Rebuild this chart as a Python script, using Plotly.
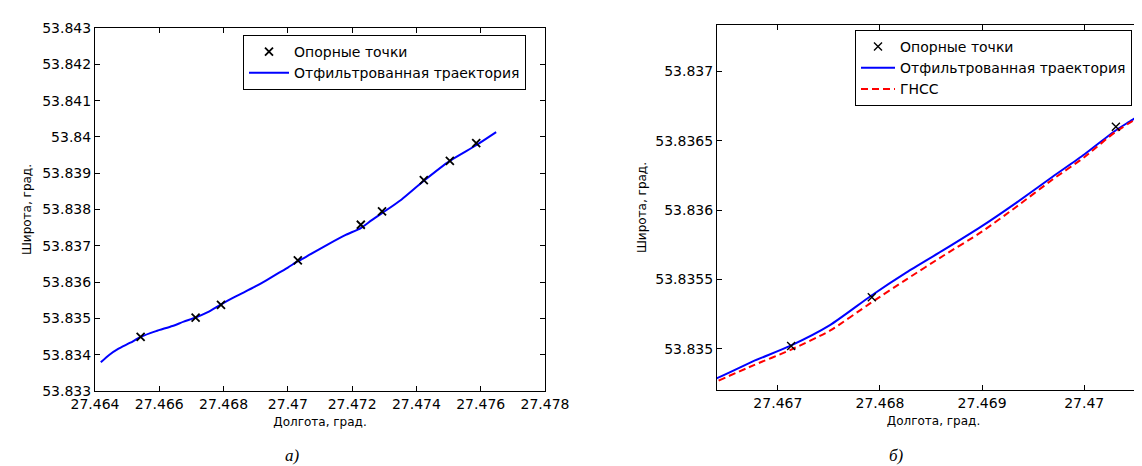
import plotly.graph_objects as go

# ---------------- data ----------------
# reference points ("Опорные точки")
ref_lon = [27.46542, 27.46713, 27.46792, 27.47031, 27.47227, 27.47293, 27.47423, 27.47504, 27.47586]
ref_lat = [53.83449, 53.83502, 53.83537, 53.83660, 53.83758, 53.83795, 53.83881, 53.83934, 53.83983]

# filtered trajectory ("Отфильтрованная траектория")
traj_lon = [27.46418, 27.46445, 27.46472, 27.46510, 27.46542, 27.46590, 27.46641, 27.46676,
            27.46712, 27.46751, 27.46791, 27.46826, 27.46862, 27.46899, 27.46933, 27.46969,
            27.47000, 27.47030, 27.47047, 27.47065, 27.47125, 27.47180, 27.47227, 27.47260,
            27.47293, 27.47353, 27.47423, 27.47504, 27.47586, 27.47648]
traj_lat = [53.83379, 53.83400, 53.83416, 53.83433, 53.83449, 53.83465, 53.83479, 53.83491,
            53.83502, 53.83517, 53.83538, 53.83555, 53.83571, 53.83588, 53.83605, 53.83624,
            53.83640, 53.83657, 53.83665, 53.83674, 53.83704, 53.83730, 53.83749, 53.83770,
            53.83790, 53.83827, 53.83879, 53.83934, 53.83977, 53.84013]

# GNSS track ("ГНСС"), right panel only
gnss_lon = [27.46642, 27.46676, 27.46712, 27.46751, 27.46791, 27.46826, 27.46862,
            27.46899, 27.46933, 27.46969, 27.47000, 27.47030, 27.47065]
gnss_lat = [53.83477, 53.83488, 53.83499, 53.83513, 53.83533, 53.83550, 53.83567,
            53.83584, 53.83602, 53.83622, 53.83638, 53.83656, 53.83672]

# tick values / labels
left_xticks = [27.464, 27.466, 27.468, 27.470, 27.472, 27.474, 27.476, 27.478]
left_xlabels = ["27.464", "27.466", "27.468", "27.47", "27.472", "27.474", "27.476", "27.478"]
left_yticks = [53.833, 53.834, 53.835, 53.836, 53.837, 53.838, 53.839, 53.840, 53.841, 53.842, 53.843]
left_ylabels = ["53.833", "53.834", "53.835", "53.836", "53.837", "53.838", "53.839", "53.84",
                "53.841", "53.842", "53.843"]
right_xticks = [27.467, 27.468, 27.469, 27.470]
right_xlabels = ["27.467", "27.468", "27.469", "27.47"]
right_yticks = [53.835, 53.8355, 53.836, 53.8365, 53.837]
right_ylabels = ["53.835", "53.8355", "53.836", "53.8365", "53.837"]

names = ["Опорные точки", "Отфильтрованная траектория", "ГНСС"]
x_title = "Долгота, град."
y_title = "Широта, град."
captions = ["а)", "б)"]

# ---------------- figure ----------------
W, H = 1142, 466
FONT = "DejaVu Sans"

fig = go.Figure()

# left panel
fig.add_trace(go.Scatter(x=traj_lon, y=traj_lat, mode="lines", name=names[1],
                         line=dict(color="#0000ff", width=2, shape="spline", smoothing=0.6),
                         legendrank=2, xaxis="x", yaxis="y", legend="legend"))
fig.add_trace(go.Scatter(x=ref_lon, y=ref_lat, mode="markers", name=names[0],
                         marker=dict(symbol="x-thin", size=8, line=dict(color="black", width=1.8)),
                         legendrank=1, xaxis="x", yaxis="y", legend="legend"))

# right panel
fig.add_trace(go.Scatter(x=traj_lon, y=traj_lat, mode="lines", name=names[1],
                         line=dict(color="#0000ff", width=2, shape="spline", smoothing=0.6),
                         legendrank=2, xaxis="x2", yaxis="y2", legend="legend2"))
fig.add_trace(go.Scatter(x=gnss_lon, y=gnss_lat, mode="lines", name=names[2],
                         line=dict(color="#ff0000", width=2, dash="7px,4px", shape="spline",
                                   smoothing=0.6),
                         legendrank=3, xaxis="x2", yaxis="y2", legend="legend2"))
fig.add_trace(go.Scatter(x=ref_lon, y=ref_lat, mode="markers", name=names[0],
                         marker=dict(symbol="x-thin", size=8, line=dict(color="black", width=1.4)),
                         legendrank=1, xaxis="x2", yaxis="y2", legend="legend2"))

axis_common = dict(showline=True, linecolor="black", linewidth=1, ticks="inside", ticklen=5,
                   tickcolor="black", tickwidth=1, showgrid=False, zeroline=False,
                   tickfont=dict(family=FONT, size=14, color="black"), automargin=False,
                   tickmode="array")
title_font = dict(family=FONT, size=12, color="black")
legend_font = dict(family=FONT, size=14, color="black")

fig.update_layout(
    width=W, height=H,
    margin=dict(l=0, r=0, t=0, b=0, pad=0),
    paper_bgcolor="white", plot_bgcolor="white",
    showlegend=True,
    xaxis=dict(axis_common, domain=[87 / W, 537 / W], range=[27.464, 27.478],
               tickvals=left_xticks, ticktext=left_xlabels, mirror="ticks", anchor="y",
               title=dict(text=x_title, font=title_font, standoff=6)),
    yaxis=dict(axis_common, domain=[(H - 383) / H, (H - 20) / H], range=[53.833, 53.843],
               tickvals=left_yticks, ticktext=left_ylabels, mirror="ticks", anchor="x",
               title=dict(text=y_title, font=title_font, standoff=8)),
    xaxis2=dict(axis_common, domain=[709 / W, 1.0], range=[27.466404, 27.470644],
                tickvals=right_xticks, ticktext=right_xlabels, mirror="ticks", anchor="y2",
                title=dict(text=x_title, font=title_font, standoff=6)),
    yaxis2=dict(axis_common, domain=[(H - 382) / H, (H - 17) / H], range=[53.834702, 53.837334],
                tickvals=right_yticks, ticktext=right_ylabels, mirror=False, anchor="x2",
                title=dict(text=y_title, font=title_font, standoff=6)),
    legend=dict(x=235 / W, y=(H - 27) / H, xanchor="left", yanchor="top",
                bordercolor="black", borderwidth=1, bgcolor="white", itemwidth=40,
                font=legend_font, tracegroupgap=0),
    legend2=dict(x=847 / W, y=(H - 22) / H, xanchor="left", yanchor="top",
                 bordercolor="black", borderwidth=1, bgcolor="white", itemwidth=34,
                 font=legend_font, tracegroupgap=0),
    annotations=[
        dict(text=captions[0], x=284 / W, y=(H - 447) / H, xref="paper", yref="paper",
             showarrow=False, xanchor="center", yanchor="middle",
             font=dict(family="Liberation Serif", size=17, color="black", style="italic")),
        dict(text=captions[1], x=888 / W, y=(H - 447) / H, xref="paper", yref="paper",
             showarrow=False, xanchor="center", yanchor="middle",
             font=dict(family="Liberation Serif", size=17, color="black", style="italic")),
    ],
)

fig.write_html("out.html")
